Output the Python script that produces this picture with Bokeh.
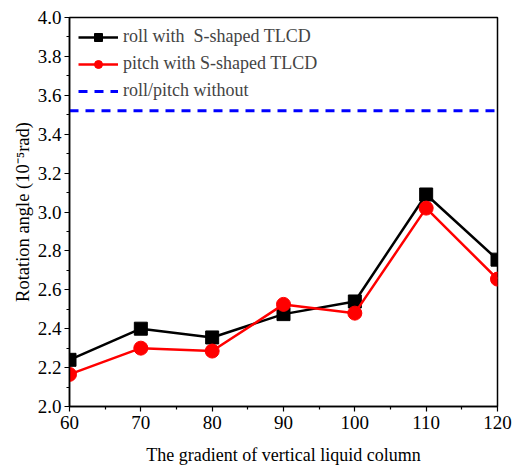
from bokeh.plotting import figure
from bokeh.models import Legend, LegendItem, FixedTicker, PrintfTickFormatter
from bokeh.embed import file_html
from bokeh.resources import INLINE

# Gradient of the vertical liquid column
gradient = [60, 70, 80, 90, 100, 110, 120]
# Rotation angle (1e-5 rad)
roll_s_tlcd = [2.24, 2.40, 2.355, 2.475, 2.54, 3.09, 2.755]
pitch_s_tlcd = [2.165, 2.30, 2.285, 2.525, 2.48, 3.02, 2.655]
without_tlcd = 3.52

x_ticks = [60, 70, 80, 90, 100, 110, 120]
y_ticks = [2.0, 2.2, 2.4, 2.6, 2.8, 3.0, 3.2, 3.4, 3.6, 3.8, 4.0]

FONT = "Liberation Serif"

p = figure(width=512, height=468, output_backend="svg", toolbar_location=None,
           x_range=(60, 120), y_range=(2.0, 4.0),
           min_border_left=69, min_border_right=15, min_border_top=17, min_border_bottom=62)
p.xgrid.visible = False
p.ygrid.visible = False
p.outline_line_color = "black"
p.outline_line_width = 1.5
p.background_fill_color = "white"
p.border_fill_color = "white"

r1l = p.line(gradient, roll_s_tlcd, line_color="black", line_width=2.5)
r1m = p.scatter(gradient, roll_s_tlcd, marker="square", size=13, color="black")
r2l = p.line(gradient, pitch_s_tlcd, line_color="red", line_width=2.5)
r2m = p.scatter(gradient, pitch_s_tlcd, marker="circle", size=14, color="red")
r3 = p.line([60, 120], [without_tlcd, without_tlcd], line_color="blue",
            line_width=3, line_dash="9 7")

p.xaxis.ticker = FixedTicker(ticks=x_ticks, minor_ticks=[65, 75, 85, 95, 105, 115])
p.yaxis.ticker = FixedTicker(ticks=y_ticks,
                             minor_ticks=[2.1, 2.3, 2.5, 2.7, 2.9, 3.1, 3.3, 3.5, 3.7, 3.9])
p.yaxis.formatter = PrintfTickFormatter(format="%.1f")

p.axis.axis_line_width = 1.5
p.axis.major_tick_line_width = 1.2
p.axis.minor_tick_line_width = 1.2
p.axis.major_tick_in = 0
p.axis.major_tick_out = 5
p.axis.minor_tick_in = 0
p.axis.minor_tick_out = 3
p.axis.major_label_text_font = FONT
p.axis.major_label_text_font_size = "19px"
p.axis.major_label_text_font_style = "normal"
p.axis.major_label_text_color = "black"
p.axis.axis_label_text_font = FONT
p.axis.axis_label_text_font_style = "normal"
p.axis.axis_label_text_color = "black"
p.xaxis.axis_label_text_font_size = "18px"
p.yaxis.axis_label_text_font_size = "18.5px"

p.xaxis.axis_label = "The gradient of vertical liquid column"
p.yaxis.axis_label = "Rotation angle (10\u207b\u2075rad)"
p.xaxis.major_label_standoff = 4
p.yaxis.major_label_standoff = 3
p.xaxis.axis_label_standoff = 13
p.yaxis.axis_label_standoff = 2

legend = Legend(items=[
    LegendItem(label="roll with  S-shaped TLCD", renderers=[r1l, r1m]),
    LegendItem(label="pitch with S-shaped TLCD", renderers=[r2l, r2m]),
    LegendItem(label="roll/pitch without", renderers=[r3]),
], location="top_left")
legend.border_line_color = None
legend.background_fill_alpha = 0
legend.label_text_font = FONT
legend.label_text_font_size = "18px"
legend.glyph_width = 40
legend.glyph_height = 20
legend.spacing = 6
legend.label_standoff = 5
legend.padding = 6
legend.margin = 9
p.add_layout(legend)

open("out.html", "w").write(file_html(p, INLINE))
